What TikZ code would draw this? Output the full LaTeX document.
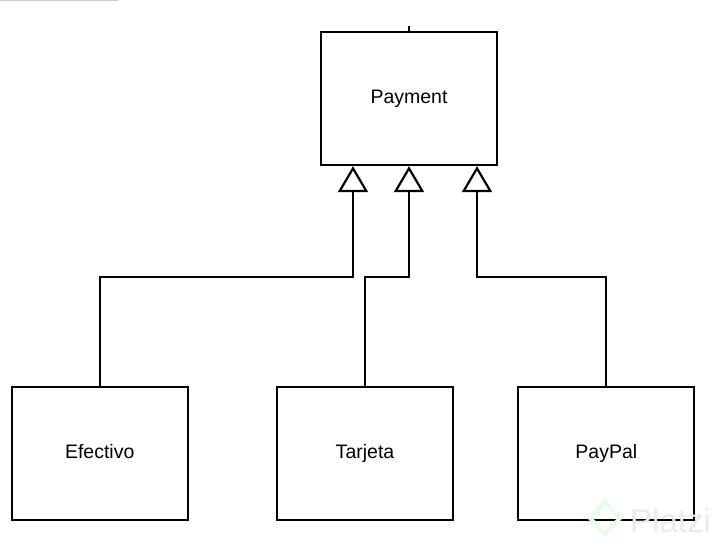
\documentclass[tikz,border=0pt]{standalone}
\usepackage{fontspec}
\setmainfont{Liberation Sans}
\usepackage{tikz}
\usetikzlibrary{positioning}
\usetikzlibrary{arrows.meta}

\begin{document}
\begin{tikzpicture}[x=1pt,y=1pt]
\tikzset{class/.style={rectangle,minimum width=176pt,minimum height=133pt,text height=14pt,text depth=4.5pt,line width=2.3pt,draw,font=\fontsize{19.5}{23}\selectfont}}
\tikzset{inherit/.style={line width=2.2pt,-{Triangle[open,length=26pt,width=30pt,line width=2.2pt]},fill=white}}
\useasboundingbox (0,0) rectangle (718,-546);
\draw[gray!40,line width=1.5pt] (0,-0.5) -- (118,-0.5);
\node[class] (payment) at (409,-98.5) {Payment};
\node[class, below = 220pt of payment, xshift=-44pt] (tarjeta) {Tarjeta};
\node[class, left = 87pt of tarjeta] (efectivo) {Efectivo};
\node[class, right = 63pt of tarjeta] (paypal) {PayPal};
\draw[line width=2.2pt](payment.north) -- ++(0,5pt);
\draw[inherit](efectivo.north) |- ([xshift=-56pt,yshift=-111pt]payment.south) -- ([xshift=-56pt]payment.south);
\draw[inherit](tarjeta.north) |- ([yshift=-111pt]payment.south) -- (payment.south);
\draw[inherit](paypal.north) |- ([xshift=68pt,yshift=-111pt]payment.south) -- ([xshift=68pt]payment.south);
\draw[green!10,line width=4pt] (605,-502) -- (620,-518) -- (605,-534) -- (590,-518) -- cycle;
\node[text=black!8,font=\fontsize{33}{36}\selectfont, anchor=base west, inner sep=0pt] (logo) at (630,-532) {Platzi};
\end{tikzpicture}
\end{document}
